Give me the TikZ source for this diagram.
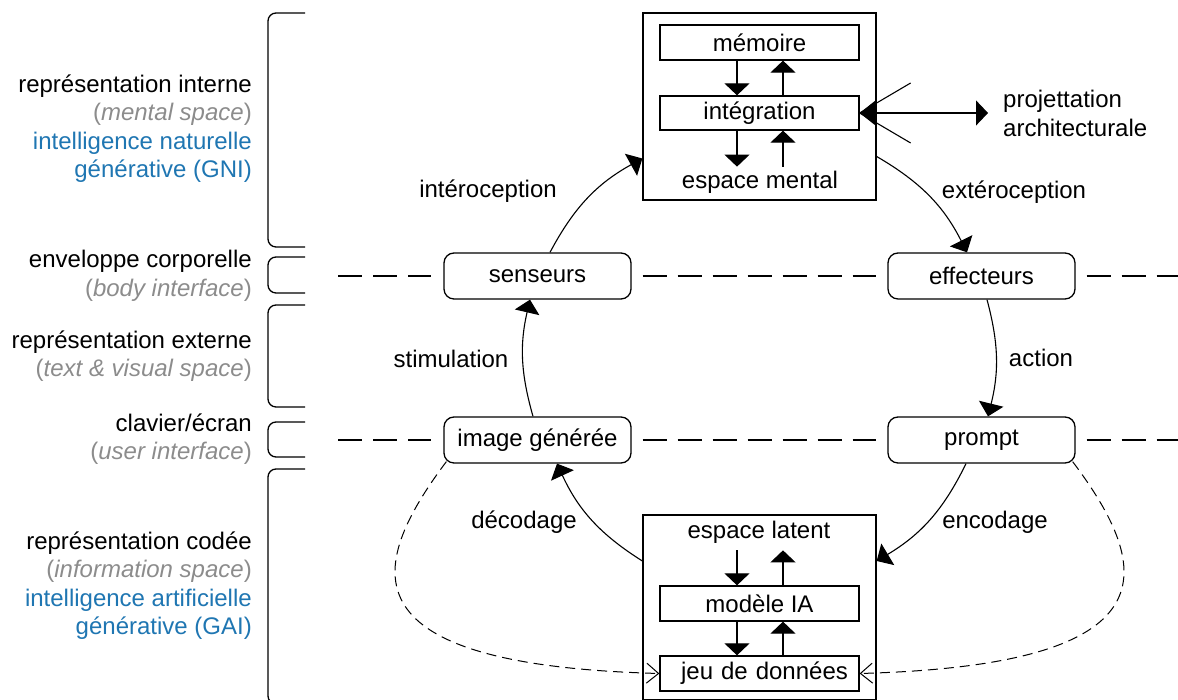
\documentclass[tikz,border=0pt]{standalone}
\usepackage{fontspec}
\setmainfont{Liberation Sans}
\usetikzlibrary{arrows.meta,calc}
\definecolor{gnblue}{RGB}{31,118,178}
\definecolor{lgrey}{RGB}{140,140,140}
\tikzset{
  txt/.style={font=\fontsize{24}{29}\selectfont, inner sep=0pt},
  sidetxt/.style={txt, align=right, anchor=east, font=\fontsize{24}{28.5}\selectfont},
  bigbox/.style={draw, line width=1.3pt, minimum width=233pt, inner sep=0pt},
  inbox/.style={draw, line width=1.3pt, minimum width=199pt, minimum height=35pt, inner sep=0pt, font=\fontsize{24}{29}\selectfont},
  rbox/.style={draw, line width=1.3pt, rounded corners=10pt, minimum width=187pt, minimum height=46pt, inner sep=0pt, font=\fontsize{24}{29}\selectfont},
  arr/.style={line width=1.1pt, -{Triangle[length=12pt,width=25pt]}},
  cyc/.style={line width=1.1pt, -{Triangle[length=13pt,width=25pt]}},
  level/.style={line width=2pt, dash pattern=on 24pt off 11pt},
  dcurve/.style={line width=1pt, dash pattern=on 10pt off 6pt, -{Straight Barb[length=12pt,width=20pt,line width=1pt]}},
  brk/.style={line width=1.3pt, rounded corners=8pt},
}
\begin{document}
\begin{tikzpicture}[x=1pt,y=1pt]
\useasboundingbox (0,0) rectangle (1178,700);
\clip (0,0) rectangle (1178,700);

% ---------- top box ----------
\node[bigbox, minimum height=187pt] (topbox) at (759.5,593.5) {};
\node[inbox] (mem) at (759.5,657.5) {mémoire};
\node[inbox, minimum height=34pt] (integ) at (759.5,587) {intégration};
\node[txt] (mental) at (760,518) {espace mental};
\draw[arr] ([xshift=-22.5pt]mem.south) -- ([xshift=-22.5pt]integ.north);
\draw[arr] ([xshift=23.5pt]integ.north) -- ([xshift=23.5pt]mem.south);
\draw[arr] ([xshift=-22.5pt]integ.south) -- ([xshift=-22.5pt,yshift=-36pt]integ.south);
\draw[arr] ([xshift=23.5pt,yshift=-36pt]integ.south) -- ([xshift=23.5pt]integ.north |- integ.south);

% projettation
\node[txt, align=left, anchor=west] (proj) at (1003,587) {projettation\\architecturale};
\draw[line width=1.1pt, {Triangle[length=16pt,width=25pt]}-{Triangle[length=12pt,width=25pt]}] (integ.east) -- ([xshift=-15pt]proj.west);
\draw[line width=1.1pt] (integ.east) -- ($(integ.east)+(51,30)$);
\draw[line width=1.1pt] (integ.east) -- ($(integ.east)+(51,-30)$);

% ---------- middle nodes ----------
\node[rbox] (sens) at (537.5,424) {senseurs};
\node[rbox] (eff) at (981.5,424) {effecteurs};
\node[rbox] (img) at (537.5,260) {image générée};
\node[rbox] (prompt) at (981.5,260) {prompt};

% level lines
\draw[level] (338,424) -- ([xshift=-12pt]sens.west);
\draw[level] ([xshift=11pt]sens.east) -- ([xshift=-11pt]eff.west);
\draw[level] ([xshift=11pt]eff.east) -- (1190,424);
\draw[level] (338,260) -- ([xshift=-12pt]img.west);
\draw[level] ([xshift=11pt]img.east) -- ([xshift=-11pt]prompt.west);
\draw[level] ([xshift=11pt]prompt.east) -- (1190,260);

% ---------- bottom box ----------
\node[bigbox, minimum height=185pt] (botbox) at (759.5,92.5) {};
\node[txt] (latent) at (759,168) {espace latent};
\node[inbox] (modele) at (759.5,96.5) {modèle IA};
\node[inbox, text width=199pt, align=center] (jeu) at (759.5,26.5) {\hspace*{10pt}jeu de données};
\draw[arr] ([xshift=-22.5pt,yshift=35pt]modele.north) -- ([xshift=-22.5pt]modele.north);
\draw[arr] ([xshift=23.5pt]modele.north) -- ([xshift=23.5pt,yshift=35pt]modele.north);
\draw[arr] ([xshift=-22.5pt]modele.south) -- ([xshift=-22.5pt]jeu.north);
\draw[arr] ([xshift=23.5pt]jeu.north) -- ([xshift=23.5pt]modele.south);

% ---------- cycle ----------
\draw[cyc] ([xshift=12.5pt]sens.north) to[bend left=16.5] ([yshift=-52pt]topbox.west);
\draw[cyc] ([yshift=-50pt]topbox.east) to[bend left=16.5] ([xshift=-14.5pt]eff.north);
\draw[cyc] ([xshift=5.5pt]eff.south) to[bend left=14.5] ([xshift=6.5pt]prompt.north);
\draw[cyc] ([xshift=-15.5pt]prompt.south) to[bend left=16.5] ([yshift=46.5pt]botbox.east);
\draw[cyc] ([yshift=46.5pt]botbox.west) to[bend left=16.5] ([xshift=19.5pt]img.south);
\draw[cyc] ([xshift=-4.5pt]img.north) to[bend left=14.5] ([xshift=-7.5pt]sens.south);

\node[txt] (lint) at (488,509) {intéroception};
\node[txt] (lext) at (1014,508) {extéroception};
\node[txt] (lstim) at (451,341) {stimulation};
\node[txt] (lact) at (1041,342) {action};
\node[txt] (ldec) at (524,178) {décodage};
\node[txt] (lenc) at (995,178) {encodage};

% dashed curves
\draw[dcurve] ([shift={(3pt,2pt)}]img.south west) .. controls (365,130) and (345,35) .. (jeu.west);
\draw[dcurve] ([shift={(-3pt,2pt)}]prompt.south east) .. controls (1154,130) and (1174,35) .. (jeu.east);

% ---------- left labels ----------
\node[sidetxt] (g1) at (252,571.5) {représentation interne\\\textcolor{lgrey}{(\textit{mental space})}\\\textcolor{gnblue}{intelligence naturelle}\\\textcolor{gnblue}{générative (GNI)}};
\node[sidetxt] (g2) at (252,424) {enveloppe corporelle\\\textcolor{lgrey}{(\textit{body interface})}};
\node[sidetxt] (g3) at (252,344) {représentation externe\\\textcolor{lgrey}{(\textit{text \& visual space})}};
\node[sidetxt] (g4) at (252,261) {clavier/écran\\\textcolor{lgrey}{(\textit{user interface})}};
\node[sidetxt] (g5) at (252,114.5) {représentation codée\\\textcolor{lgrey}{(\textit{information space})}\\\textcolor{gnblue}{intelligence artificielle}\\\textcolor{gnblue}{générative (GAI)}};

% brackets
\draw[brk] (305,687) -- (268,687) -- (268,453) -- (305,453);
\draw[brk] (305,443) -- (268,443) -- (268,407) -- (305,407);
\draw[brk] (305,395) -- (268,395) -- (268,293) -- (305,293);
\draw[brk] (305,278) -- (268,278) -- (268,243) -- (305,243);
\draw[brk] (305,231) -- (268,231) -- (268,-4) -- (305,-4);
\end{tikzpicture}
\end{document}
